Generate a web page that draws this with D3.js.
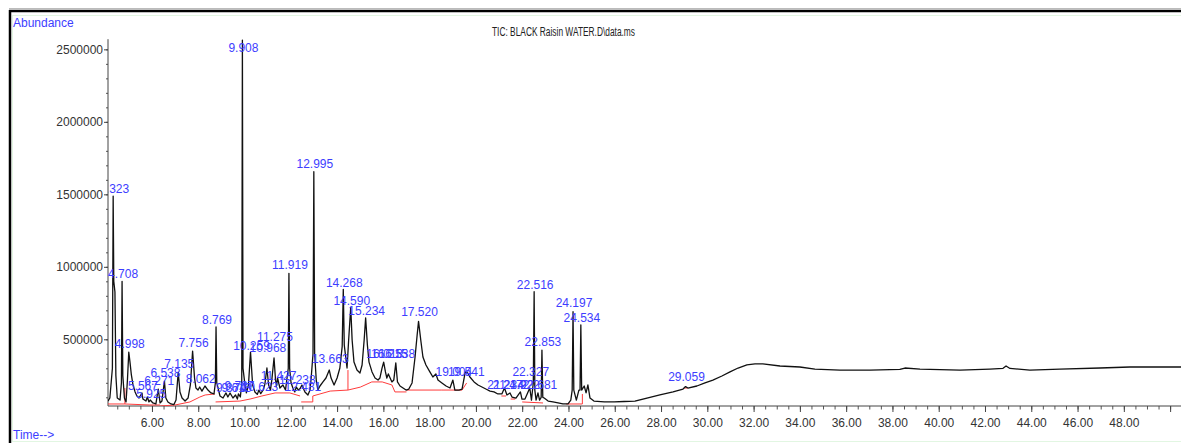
<!DOCTYPE html>
<html>
<head>
<meta charset="utf-8">
<script src="https://cdn.jsdelivr.net/npm/d3@7"></script>
<style>
  body { margin: 0; background: #fff; }
  svg { display: block; font-family: "Liberation Sans", Arial, sans-serif; }
</style>
</head>
<body>
<div id="chart"></div>
<script>
// total ion chromatogram, [time (min), abundance]
var tic = [
  [4.10, 74000], [4.18, 95000], [4.29, 300000], [4.323, 1488000], [4.35, 900000],
  [4.40, 826000], [4.44, 250000], [4.50, 95000], [4.62, 81000], [4.68, 200000],
  [4.708, 900000], [4.74, 250000], [4.81, 95000], [4.88, 68000], [4.94, 219000],
  [4.998, 412000], [5.05, 343000], [5.11, 254000], [5.18, 185000], [5.27, 137000],
  [5.35, 109000], [5.44, 95000], [5.567, 130000], [5.61, 88000], [5.74, 74000],
  [5.80, 102000], [5.87, 68000], [5.925, 81000], [6.04, 61000], [6.17, 54000],
  [6.271, 157000], [6.35, 61000], [6.43, 74000], [6.538, 212000], [6.60, 95000],
  [6.69, 68000], [6.82, 54000], [6.95, 50000], [7.04, 81000], [7.135, 274000],
  [7.21, 137000], [7.30, 95000], [7.43, 74000], [7.56, 95000], [7.66, 185000],
  [7.756, 419000], [7.84, 233000], [7.90, 164000], [7.99, 150000], [8.062, 171000],
  [8.16, 143000], [8.29, 178000], [8.42, 150000], [8.55, 130000], [8.68, 123000],
  [8.74, 200000], [8.769, 585000], [8.80, 200000], [8.94, 109000], [9.07, 95000],
  [9.20, 130000], [9.28, 102000], [9.374, 130000], [9.50, 95000], [9.613, 116000],
  [9.69, 88000], [9.737, 123000], [9.82, 102000], [9.88, 200000], [9.908, 2564000],
  [9.935, 300000], [10.02, 185000], [10.08, 130000], [10.17, 185000], [10.259, 412000],
  [10.35, 185000], [10.45, 137000], [10.55, 120000], [10.623, 150000], [10.70, 125000],
  [10.80, 150000], [10.88, 190000], [10.968, 302000], [11.04, 185000], [11.12, 150000],
  [11.18, 220000], [11.275, 371000], [11.34, 219000], [11.38, 178000], [11.427, 233000],
  [11.53, 164000], [11.66, 185000], [11.77, 150000], [11.89, 300000], [11.919, 955000],
  [11.95, 300000], [12.01, 200000], [12.09, 164000], [12.17, 137000], [12.238, 171000],
  [12.33, 150000], [12.40, 160000], [12.481, 185000], [12.61, 137000], [12.74, 116000],
  [12.83, 150000], [12.89, 254000], [12.96, 400000], [12.995, 1656000], [13.03, 400000],
  [13.10, 219000], [13.17, 150000], [13.26, 178000], [13.39, 206000], [13.52, 233000],
  [13.663, 288000], [13.74, 233000], [13.87, 185000], [14.00, 233000], [14.12, 302000],
  [14.22, 450000], [14.268, 845000], [14.31, 461000], [14.43, 302000], [14.50, 495000],
  [14.590, 721000], [14.65, 495000], [14.73, 343000], [14.86, 288000], [14.99, 268000],
  [15.08, 323000], [15.17, 495000], [15.234, 648000], [15.31, 461000], [15.38, 343000],
  [15.51, 275000], [15.64, 233000], [15.77, 219000], [15.85, 233000], [15.94, 300000],
  [16.013, 343000], [16.09, 275000], [16.15, 233000], [16.215, 261000], [16.37, 206000],
  [16.45, 219000], [16.538, 337000], [16.61, 206000], [16.72, 178000], [16.85, 164000],
  [16.98, 150000], [17.10, 157000], [17.24, 199000], [17.37, 378000], [17.46, 530000],
  [17.520, 624000], [17.62, 490000], [17.71, 378000], [17.84, 323000], [18.01, 275000],
  [18.14, 240000], [18.27, 261000], [18.36, 219000], [18.53, 199000], [18.71, 178000],
  [18.88, 164000], [19.004, 219000], [19.09, 150000], [19.27, 150000], [19.40, 157000],
  [19.541, 275000], [19.64, 268000], [19.74, 240000], [19.92, 206000], [20.09, 185000],
  [20.26, 171000], [20.43, 157000], [20.61, 143000], [20.78, 137000], [20.95, 123000],
  [21.12, 123000], [21.234, 164000], [21.34, 116000], [21.472, 130000], [21.56, 102000],
  [21.73, 95000], [21.922, 137000], [21.99, 88000], [22.12, 88000], [22.327, 164000],
  [22.40, 81000], [22.48, 200000], [22.516, 828000], [22.545, 150000], [22.60, 81000],
  [22.681, 130000], [22.75, 81000], [22.82, 100000], [22.853, 426000], [22.89, 100000],
  [22.95, 95000], [23.12, 74000], [23.33, 68000], [23.55, 61000], [23.76, 54000],
  [23.98, 54000], [24.10, 81000], [24.16, 150000], [24.197, 690000], [24.23, 150000],
  [24.34, 81000], [24.45, 150000], [24.50, 150000], [24.534, 599000], [24.57, 150000],
  [24.68, 178000], [24.76, 130000], [24.84, 185000], [24.93, 95000], [25.10, 74000],
  [25.55, 68000], [25.97, 68000], [26.40, 71000], [26.87, 74000], [27.39, 95000],
  [27.95, 116000], [28.52, 137000], [28.95, 157000], [29.059, 174000], [29.16, 164000],
  [29.55, 178000], [29.90, 199000], [30.24, 219000], [30.63, 247000], [30.98, 275000],
  [31.33, 302000], [31.71, 323000], [32.06, 330000], [32.40, 330000], [33.14, 316000],
  [34.00, 309000], [34.65, 295000], [35.73, 288000], [37.03, 288000], [38.32, 292000],
  [38.54, 302000], [39.19, 295000], [40.92, 288000], [42.21, 295000], [42.78, 300000],
  [42.91, 316000], [43.08, 299000], [43.94, 288000], [45.24, 295000], [46.97, 302000],
  [48.26, 309000], [50.60, 309000]
];

// integration baselines (red), one list of points per drawn segment
var baselines = [
  [[4.10, 54000], [4.83, 54000]],
  [[4.83, 54000], [4.83, 164000]],
  [[4.83, 54000], [5.90, 47000], [6.35, 47000]],
  [[6.35, 40000], [7.00, 47000], [7.64, 68000], [8.07, 102000], [8.30, 116000], [8.72, 123000]],
  [[8.75, 68000], [9.80, 74000], [10.24, 88000], [10.75, 109000], [11.32, 130000], [11.96, 130000], [12.40, 109000]],
  [[12.45, 68000], [12.95, 68000]],
  [[12.95, 68000], [12.95, 109000], [13.70, 143000], [14.47, 150000]],
  [[14.47, 150000], [14.47, 288000]],
  [[14.47, 150000], [15.00, 170000], [15.50, 206000], [15.95, 206000], [16.37, 185000], [16.50, 137000], [17.00, 137000]],
  [[17.00, 150000], [18.50, 150000], [19.40, 150000], [19.60, 199000]],
  [[21.10, 109000], [21.30, 109000]],
  [[21.50, 88000], [21.70, 88000]],
  [[22.00, 68000], [22.90, 61000]],
  [[23.90, 54000], [24.60, 54000], [24.60, 123000]],
  [[29.00, 164000], [29.15, 164000]]
];

// labelled peaks: retention time, printed label, abundance at the label baseline
var peakTimes = [4.323, 4.708, 4.998, 5.567, 5.925, 6.271, 6.538, 7.135, 7.756, 8.062,
  8.769, 9.374, 9.613, 9.737, 9.908, 10.259, 10.623, 10.968, 11.275, 11.427,
  11.919, 12.238, 12.481, 12.995, 13.663, 14.268, 14.590, 15.234, 16.013, 16.215,
  16.538, 17.520, 19.004, 19.541, 21.234, 21.472, 21.922, 22.327, 22.516, 22.681,
  22.853, 24.197, 24.534, 29.059];
var peakLabels = peakTimes.map(function(t){ return t.toFixed(3); });
var labelLevels = [1509000, 923000, 440000, 150000, 95000, 185000, 240000, 302000, 447000, 199000,
  604000, 137000, 137000, 150000, 2482000, 426000, 143000, 412000, 486000, 219000,
  985000, 192000, 143000, 1681000, 337000, 861000, 737000, 667000, 371000, 371000,
  371000, 661000, 247000, 247000, 157000, 157000, 157000, 247000, 847000, 157000,
  454000, 723000, 620000, 212000];

var yTicks = [500000, 1000000, 1500000, 2000000, 2500000];
var xTicks = [6, 8, 10, 12, 14, 16, 18, 20, 22, 24, 26, 28, 30, 32, 34, 36, 38, 40, 42, 44, 46, 48];

var
  WIDTH = 1181,
  HEIGHT = 443,
  PLOT_LEFT = 108,
  PLOT_RIGHT = 1184,
  AXIS_Y = 406,
  PLOT_TOP = 39.2,
  LABEL_COLOR = "#3d3dff",
  TEXT_COLOR = "#333";

var svg = d3.select("#chart").append("svg")
  .attr("width", WIDTH)
  .attr("height", HEIGHT);

svg.append("rect").attr("width", WIDTH).attr("height", HEIGHT).attr("fill", "#fff");

// window frame
svg.append("rect")
  .attr("x", 12.5).attr("y", 15.5)
  .attr("width", WIDTH).attr("height", 426)
  .attr("fill", "none").attr("stroke", "#e2f6e2");
svg.append("line").attr("x1", 9).attr("x2", WIDTH).attr("y1", 8.5).attr("y2", 8.5)
  .attr("stroke", "#bbb");
svg.append("line").attr("x1", 9).attr("x2", WIDTH).attr("y1", 11).attr("y2", 11)
  .attr("stroke", "#000").attr("stroke-width", 2.5);
svg.append("line").attr("x1", 10).attr("x2", 10).attr("y1", 10).attr("y2", HEIGHT)
  .attr("stroke", "#000").attr("stroke-width", 2.5);

var x = d3.scaleLinear().domain([4.1, 50.6]).range([PLOT_LEFT, PLOT_RIGHT]);
var y = d3.scaleLinear().domain([40000, 2570000]).range([AXIS_Y, PLOT_TOP]);

// y axis
var yAxis = svg.append("g").attr("transform", "translate(" + PLOT_LEFT + ",0)");
yAxis.call(d3.axisLeft(y).tickValues(d3.range(100000, 2600000, 100000)).tickSize(2).tickFormat(""));
yAxis.call(function(g){
  g.select(".domain").remove();
  g.selectAll(".tick line").attr("stroke", "#555");
});
var yMajor = svg.append("g").attr("transform", "translate(" + PLOT_LEFT + ",0)")
  .call(d3.axisLeft(y).tickValues(yTicks).tickSize(4).tickPadding(1).tickFormat(d3.format("d")));
yMajor.select(".domain").attr("d", "M0," + PLOT_TOP + "V" + AXIS_Y).attr("stroke", "#444");
yMajor.selectAll(".tick line").attr("stroke", "#444");
yMajor.selectAll("text")
  .attr("fill", TEXT_COLOR).attr("font-size", 12)
  .attr("font-family", "Liberation Sans, Arial, sans-serif");

// x axis
var xMinor = svg.append("g").attr("transform", "translate(0," + AXIS_Y + ")")
  .call(d3.axisBottom(x).tickValues(d3.range(4.5, 50.6, 0.5)).tickSize(3.5).tickFormat(""));
xMinor.select(".domain").remove();
xMinor.selectAll(".tick line").attr("stroke", "#555");
var xMajor = svg.append("g").attr("transform", "translate(0," + AXIS_Y + ")")
  .call(d3.axisBottom(x).tickValues(xTicks.concat([50])).tickSize(6).tickPadding(6)
    .tickFormat(function(d){ return d < 50 ? d3.format(".2f")(d) : ""; }));
xMajor.select(".domain").attr("d", "M" + PLOT_LEFT + ",0H" + WIDTH).attr("stroke", "#444");
xMajor.selectAll(".tick line").attr("stroke", "#444");
xMajor.selectAll("text")
  .attr("fill", TEXT_COLOR).attr("font-size", 12)
  .attr("font-family", "Liberation Sans, Arial, sans-serif");

// plot contents clipped to the right of the y axis
svg.append("clipPath").attr("id", "plot-clip")
  .append("rect").attr("x", PLOT_LEFT).attr("y", 0)
  .attr("width", WIDTH - PLOT_LEFT).attr("height", AXIS_Y);
var plot = svg.append("g").attr("clip-path", "url(#plot-clip)");

var line = d3.line()
  .x(function(d){ return x(d[0]); })
  .y(function(d){ return y(d[1]); });

baselines.forEach(function(seg){
  plot.append("path")
    .attr("d", line(seg))
    .attr("fill", "none")
    .attr("stroke", "#ff3b3b")
    .attr("stroke-width", 1);
});

plot.append("path")
  .attr("d", line(tic))
  .attr("fill", "none")
  .attr("stroke", "#111")
  .attr("stroke-width", 1.3)
  .attr("stroke-linejoin", "round");

plot.append("g").selectAll("text")
  .data(peakTimes)
  .join("text")
  .attr("x", function(d){ return x(d) + 1; })
  .attr("y", function(d, i){ return y(labelLevels[i]); })
  .attr("text-anchor", "middle")
  .attr("font-size", 12)
  .attr("fill", LABEL_COLOR)
  .text(function(d, i){ return peakLabels[i]; });

// captions
svg.append("text").attr("x", 13).attr("y", 27)
  .attr("font-size", 12).attr("fill", LABEL_COLOR).text("Abundance");
svg.append("text").attr("x", 13).attr("y", 439)
  .attr("font-size", 12).attr("fill", LABEL_COLOR).text("Time-->");
svg.append("text").attr("x", 492).attr("y", 36)
  .attr("font-size", 12).attr("fill", "#222")
  .attr("textLength", 143).attr("lengthAdjust", "spacingAndGlyphs")
  .text("TIC: BLACK Raisin WATER.D\\data.ms");
</script>
</body>
</html>
